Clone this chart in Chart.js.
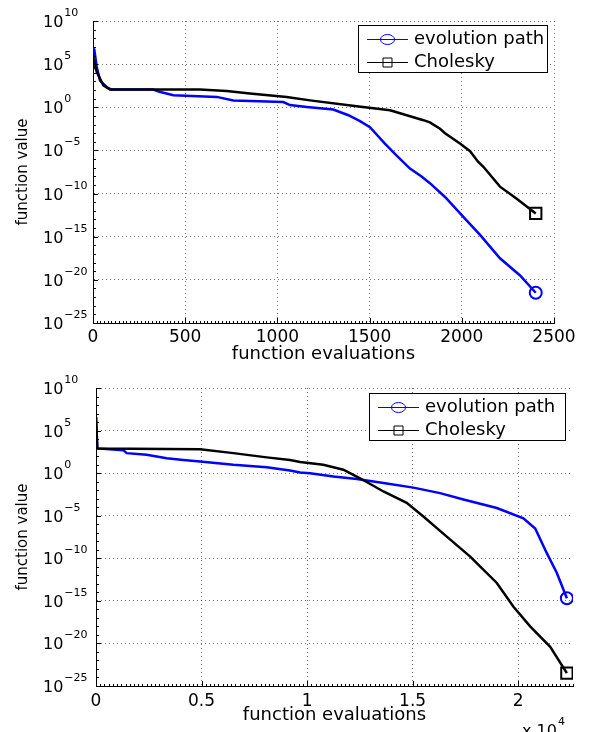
<!DOCTYPE html>
<html>
<head>
<meta charset="utf-8">
<script src="https://cdn.jsdelivr.net/npm/chart.js@4/dist/chart.umd.min.js"></script>
<style>
    html, body { margin: 0; padding: 0; background: #fff; }
    .painel { position: absolute; left: 0; width: 589px; height: 366px; }
</style>
</head>
<body>
<div class="painel" style="top:0"><canvas id="graficoSup"></canvas></div>
<div class="painel" style="top:366px"><canvas id="graficoInf"></canvas></div>
<script>
// dados (x = avaliações, y = valor da função)
const legendas = ["evolution path", "Cholesky"];

const evolSupX = [0, 7, 20, 38, 74, 101, 327, 360, 436, 671, 761, 1032, 1068, 1159, 1303, 1385, 1448, 1502, 1583, 1647, 1719, 1780, 1827, 1909, 2017, 2099, 2207, 2316, 2401];
const evolSupY = [6.3e6, 5.0e6, 5.0e4, 1.26e3, 224, 112, 112, 63, 25, 16, 6.3, 4.0, 1.8, 1.07, 0.54, 0.12, 2.5e-2, 5e-3, 6.3e-5, 2.5e-6, 8e-8, 1e-8, 1.6e-9, 4e-11, 1.26e-13, 1.6e-15, 3.2e-18, 3.2e-20, 3.2e-22];

const cholSupX = [0, 2, 20, 56, 92, 580, 725, 851, 1050, 1177, 1430, 1611, 1665, 1792, 1827, 1882, 1909, 1990, 2045, 2088, 2117, 2207, 2298, 2401];
const cholSupY = [6.3e5, 4e5, 1.26e4, 355, 112, 112, 79, 40, 16, 6.3, 1.3, 0.45, 0.2, 3.2e-2, 1.8e-2, 3.2e-3, 1e-3, 6.3e-5, 8e-6, 5e-7, 1.26e-7, 6.3e-10, 2.5e-11, 5e-13];

const evolInfX = [0, 62, 1294, 1453, 2400, 3350, 4140, 4930, 6510, 8090, 9190, 9670, 10140, 11250, 12360, 13620, 15040, 16300, 17410, 18990, 20250, 20810, 21360, 21830, 22310];
const evolInfY = [4e6, 800, 500, 224, 141, 56, 35, 23, 9.5, 5, 2, 1.2, 1, 0.4, 0.21, 6.8e-2, 2e-2, 4.5e-3, 8e-4, 8e-5, 5e-6, 3.2e-7, 4e-10, 2e-12, 2e-15];

const cholInfX = [0, 62, 4930, 6510, 8090, 9190, 9670, 10770, 11720, 12510, 13620, 14720, 15510, 16620, 17730, 18990, 19780, 20570, 21520, 22310];
const cholInfY = [4e6, 800, 630, 224, 71, 35, 20, 9.5, 2.5, 0.25, 7e-3, 3.2e-4, 8e-6, 3.5e-8, 1.6e-10, 1.26e-13, 2e-16, 1e-18, 4e-21, 3.2e-24];

const yTicks = [1e-25, 1e-20, 1e-15, 1e-10, 1e-5, 1, 1e5, 1e10];
const xTicksSup = [0, 500, 1000, 1500, 2000, 2500];
const xTicksInf = [0, 5000, 10000, 15000, 20000];
const xMaxSup = 2500;
const xMaxInf = 22600;

const FONTE = '"DejaVu Sans"';
Chart.defaults.font.family = FONTE;
Chart.defaults.color = "#000";

function pontos(xs, ys) {
    return xs.map((x, i) => ({ x: x, y: ys[i] }));
}

function raioFinal(r) {
    return ctx => ctx.dataIndex === ctx.dataset.data.length - 1 ? r : 0;
}

// eixos estilo matlab: marcas internas, rótulos 10^n, legenda com moldura
const eixosMatlab = {
    id: "eixosMatlab",
    afterDraw(chart, args, opts) {
        const ctx = chart.ctx;
        const area = chart.chartArea;
        const ys = chart.scales.y;
        const xs = chart.scales.x;

        ctx.save();
        ctx.strokeStyle = "#000";
        ctx.lineWidth = 1;
        ctx.setLineDash([]);
        ctx.beginPath();
        const eMin = Math.round(Math.log10(ys.min));
        const eMax = Math.round(Math.log10(ys.max));
        for (let e = eMin; e <= eMax; e++) {
            const py = Math.round(ys.getPixelForValue(Math.pow(10, e))) + 0.5;
            const len = e % 5 === 0 ? 5 : 3;
            ctx.moveTo(area.left, py);
            ctx.lineTo(area.left + len, py);
        }
        for (let v = xs.min; v <= xs.max; v += opts.passoMenor) {
            const px = Math.round(xs.getPixelForValue(v)) + 0.5;
            ctx.moveTo(px, area.bottom);
            ctx.lineTo(px, area.bottom - 2);
        }
        xs.ticks.forEach(t => {
            const px = Math.round(xs.getPixelForValue(t.value)) + 0.5;
            ctx.moveTo(px, area.bottom);
            ctx.lineTo(px, area.bottom - 5);
        });
        ctx.stroke();

        // rótulos do eixo y
        ctx.fillStyle = "#000";
        ctx.textAlign = "left";
        ctx.textBaseline = "alphabetic";
        ys.ticks.forEach(t => {
            const py = ys.getPixelForValue(t.value);
            const exp = String(Math.round(Math.log10(t.value))).replace("-", "\u2212");
            const x0 = ys.left + opts.rotuloX;
            ctx.font = "16px " + FONTE;
            ctx.fillText("10", x0, py + 6);
            const w = ctx.measureText("10").width;
            ctx.font = "11px " + FONTE;
            ctx.fillText(exp, x0 + w + 1, py - 5);
        });

        // legenda
        const leg = opts.legenda;
        ctx.fillStyle = "#fff";
        ctx.fillRect(leg.x, leg.y, leg.w, leg.h);
        ctx.strokeStyle = "#000";
        ctx.strokeRect(leg.x + 0.5, leg.y + 0.5, leg.w, leg.h);
        chart.data.datasets.forEach((ds, i) => {
            const cy = Math.round(leg.y + 13.5 + i * 23) + 0.5;
            const x1 = leg.x + 9, x2 = leg.x + 50, xm = (x1 + x2) / 2;
            ctx.strokeStyle = ds.borderColor;
            ctx.lineWidth = 1;
            ctx.beginPath();
            ctx.moveTo(x1, cy);
            ctx.lineTo(x2, cy);
            ctx.stroke();
            ctx.beginPath();
            if (ds.pointStyle === "circle") {
                ctx.ellipse(xm, cy, 7, 5, 0, 0, Math.PI * 2);
            } else {
                ctx.rect(xm - 4.5, cy - 4.5, 9, 9);
            }
            ctx.stroke();
            ctx.fillStyle = "#000";
            ctx.font = "18px " + FONTE;
            ctx.textBaseline = "middle";
            ctx.fillText(ds.label, leg.x + 56, cy);
        });

        // fator de escala do eixo x
        if (opts.nota) {
            ctx.textBaseline = "alphabetic";
            const nx = area.right - 51;
            ctx.font = "16px " + FONTE;
            ctx.fillText("x 10", nx, chart.height + 4);
            const w = ctx.measureText("x 10").width;
            ctx.font = "11px " + FONTE;
            ctx.fillText(opts.nota, nx + w + 1, chart.height - 7);
        }
        ctx.restore();
    }
};

function criarGrafico(id, evolX, evolY, cholX, cholY, xTicks, xMax, formatoX, cfg) {
    const canvas = document.getElementById(id);
    return new Chart(canvas, {
        type: "scatter",
        data: {
            datasets: [{
                label: legendas[0],
                data: pontos(evolX, evolY),
                showLine: true,
                borderColor: "#0000ff",
                borderWidth: 2.5,
                tension: 0,
                pointStyle: "circle",
                pointRadius: raioFinal(6),
                pointBorderWidth: 2,
                pointBorderColor: "#0000ff",
                pointBackgroundColor: "rgba(0,0,0,0)",
                order: 1
            }, {
                label: legendas[1],
                data: pontos(cholX, cholY),
                showLine: true,
                borderColor: "#000000",
                borderWidth: 2.5,
                tension: 0,
                pointStyle: "rect",
                pointRadius: raioFinal(8),
                pointBorderWidth: 2,
                pointBorderColor: "#000000",
                pointBackgroundColor: "rgba(0,0,0,0)",
                order: 0
            }]
        },
        options: {
            responsive: true,
            maintainAspectRatio: false,
            animation: false,
            layout: { padding: cfg.padding },
            plugins: {
                legend: { display: false },
                tooltip: { enabled: false },
                eixosMatlab: {
                    passoMenor: cfg.passoMenor,
                    rotuloX: 43,
                    legenda: cfg.legenda,
                    nota: cfg.nota
                }
            },
            scales: {
                x: {
                    type: "linear",
                    min: 0,
                    max: xMax,
                    afterBuildTicks: axis => { axis.ticks = xTicks.map(v => ({ value: v })); },
                    afterFit: axis => { axis.height = cfg.alturaX; },
                    grid: { color: "rgba(0,0,0,0.55)", drawTicks: false },
                    border: { display: true, color: "#000", width: 1, dash: [1, 3] },
                    ticks: {
                        font: { size: 17 },
                        padding: cfg.padTicks,
                        maxRotation: 0,
                        autoSkip: false,
                        callback: formatoX
                    },
                    title: {
                        display: true,
                        text: "function evaluations",
                        font: { size: 18 },
                        padding: { top: 0, bottom: cfg.padTitulo }
                    }
                },
                y: {
                    type: "logarithmic",
                    min: yTicks[0],
                    max: yTicks[yTicks.length - 1],
                    afterBuildTicks: axis => { axis.ticks = yTicks.map(v => ({ value: v })); },
                    afterFit: axis => { axis.width = cfg.larguraY; },
                    grid: { color: "rgba(0,0,0,0.55)", drawTicks: false },
                    border: { display: true, color: "#000", width: 1, dash: [1, 3] },
                    ticks: { display: false },
                    title: {
                        display: true,
                        text: "function value",
                        font: { size: 15 },
                        padding: { top: 14, bottom: 0 }
                    }
                }
            }
        },
        plugins: [eixosMatlab]
    });
}

criarGrafico("graficoSup", evolSupX, evolSupY, cholSupX, cholSupY, xTicksSup, xMaxSup,
    v => String(v), {
        padding: { top: 21, right: 35, left: 0, bottom: 0 },
        larguraY: 93,
        alturaX: 43,
        padTicks: 4,
        padTitulo: 1,
        passoMenor: 20,
        legenda: { x: 358, y: 25, w: 189, h: 47 },
        nota: null
    });

criarGrafico("graficoInf", evolInfX, evolInfY, cholInfX, cholInfY, xTicksInf, xMaxInf,
    v => String(v / 1e4), {
        padding: { top: 22, right: 16, left: 0, bottom: 0 },
        larguraY: 96,
        alturaX: 46,
        padTicks: 5,
        padTitulo: 6,
        passoMenor: 200,
        legenda: { x: 369, y: 27, w: 196, h: 47 },
        nota: "4"
    });
</script>
</body>
</html>
